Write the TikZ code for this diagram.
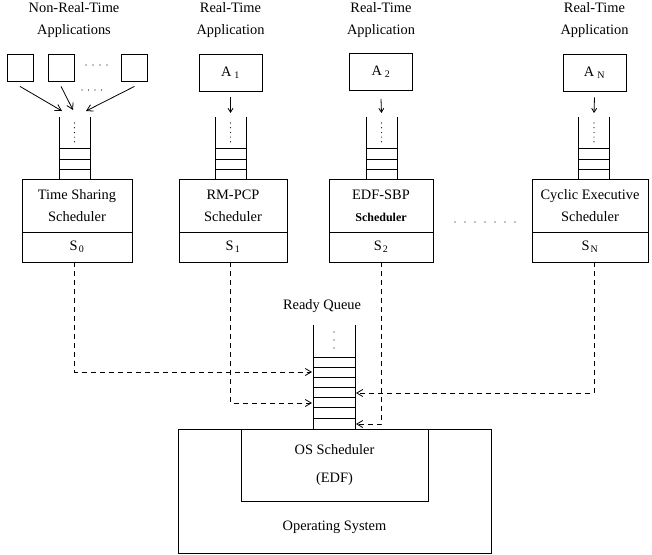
\documentclass[tikz,border=0pt]{standalone}
\usepackage{fontspec}
\setmainfont{Liberation Serif}
\usetikzlibrary{positioning,arrows.meta}

\begin{document}
\begin{tikzpicture}[x=1pt,y=-1pt,line width=0.8pt,
  >={Straight Barb[length=6pt,width=7pt]},
  every node/.style={font=\fontsize{14.4}{21.7}\selectfont},
  title/.style={anchor=north,align=center,inner sep=0pt},
  nrt/.style={draw,minimum width=26pt,minimum height=27pt,inner sep=0pt},
  app/.style={draw,minimum width=63pt,minimum height=37pt,inner sep=0pt},
  sched/.style={draw,minimum height=53pt,align=center,inner sep=0pt,outer sep=0pt},
  slot/.style={draw,minimum height=30pt,inner sep=0pt,outer sep=0pt},
  feed/.style={->,>={Straight Barb[length=4pt,width=5pt]}},
  flow/.style={->,dash pattern=on 5pt off 4pt}]

\useasboundingbox (0,0) rectangle (652,554);

% applications
\node[title] (t0) at (74,2.5) {Non-Real-Time\\Applications};
\node[title] (t1) at (230.5,2.5) {Real-Time\\Application};
\node[title] (t2) at (381,2.5) {Real-Time\\Application};
\node[title] (tN) at (594.5,2.5) {Real-Time\\Application};

\node[nrt] (n1) at (20,67.5) {};
\node[nrt] (n2) at (61,67.5) {};
\node[nrt] (n3) at (134.5,67.5) {};
\node[app] (a1) at (230.5,72.5) {A\kern3pt\textsubscript{1}};
\node[app] (a2) at (381,72) {A\kern3pt\textsubscript{2}};
\node[app] (aN) at (594.5,72.5) {A\kern3pt\textsubscript{N}};

\foreach \k in {0,...,3}
{
	\fill (86+7*\k,65) circle (0.6pt);
	\fill (82+6.5*\k,90) circle (0.6pt);
}

% schedulers
\node[sched,minimum width=110pt] (h0) at (77,205.5) {Time Sharing\\Scheduler};
\node[slot,minimum width=110pt,below=0pt of h0] (s0) {S\kern1pt\textsubscript{0}};
\node[sched,minimum width=108pt] (h1) at (233,205.5) {RM-PCP\\Scheduler};
\node[slot,minimum width=108pt,below=0pt of h1] (s1) {S\kern1pt\textsubscript{1}};
\node[sched,minimum width=104pt] (h2) at (381,205.5) {EDF-SBP\\{\fontsize{12}{21.7}\selectfont\bfseries Scheduler}};
\node[slot,minimum width=104pt,below=0pt of h2] (s2) {S\kern1pt\textsubscript{2}};
\node[sched,minimum width=116pt] (hN) at (590,205.5) {Cyclic Executive\\Scheduler};
\node[slot,minimum width=116pt,below=0pt of hN] (sN) {S\kern1pt\textsubscript{N}};

\foreach \k in {0,...,6}
	\fill (455+10*\k,222) circle (0.7pt);

% queues
\foreach \x/\n in {74.5/0,230.5/1,381.5/2,594/N}
{
	\draw (\x-15.5,117) -- (\x-15.5,179) (\x+15.5,117) -- (\x+15.5,179);
	\foreach \y in {148,159,169}
		\draw (\x-15.5,\y) -- (\x+15.5,\y);
	\foreach \d in {0,...,4}
		\fill (\x,123+4.7*\d) circle (0.6pt);
	\coordinate (q\n) at (\x,113);
}

\coordinate (m1) at (62,111);
\coordinate (m2) at (73,110);
\coordinate (m3) at (86,111);
\draw[->] ([yshift=-5pt]n1.south) -- (m1);
\draw[->] ([yshift=-5pt]n2.south) -- (m2);
\draw[->] ([yshift=-5pt]n3.south) -- (m3);
\draw[feed] ([yshift=-6pt]a1.south) -- (q1);
\draw[feed] ([yshift=-8pt]a2.south) -- (q2);
\draw[feed] ([yshift=-6pt]aN.south) -- (qN);

% ready queue
\node (rq) at (322,306) {Ready Queue};
\draw (313,325) -- (313,429) (355,325) -- (355,429);
\foreach \k in {0,...,6}
	\draw (313,357+10.17*\k) -- (355,357+10.17*\k);
\foreach \k in {0,1,2}
	\fill (334,332+8*\k) circle (0.6pt);

\coordinate (r0) at (312,372);
\coordinate (r1) at (312,403);
\coordinate (rN) at (356,393);
\coordinate (r2) at (356,424);
\draw[flow] (s0.south -| q0) |- (r0);
\draw[flow] (s1.south -| q1) |- (r1);
\draw[flow] (sN.south -| qN) |- (rN);
\draw[flow] (s2.south -| q2) |- (r2);

% operating system
\node[draw,minimum width=313pt,minimum height=124pt,outer sep=0pt] (os) at (334.5,491) {};
\node[draw,minimum width=187pt,minimum height=72pt,align=center,outer sep=0pt] (ossched) at (334.5,465) {OS Scheduler\\[6pt](EDF)};
\node (oslabel) at (334.5,527) {Operating System};
\end{tikzpicture}
\end{document}
